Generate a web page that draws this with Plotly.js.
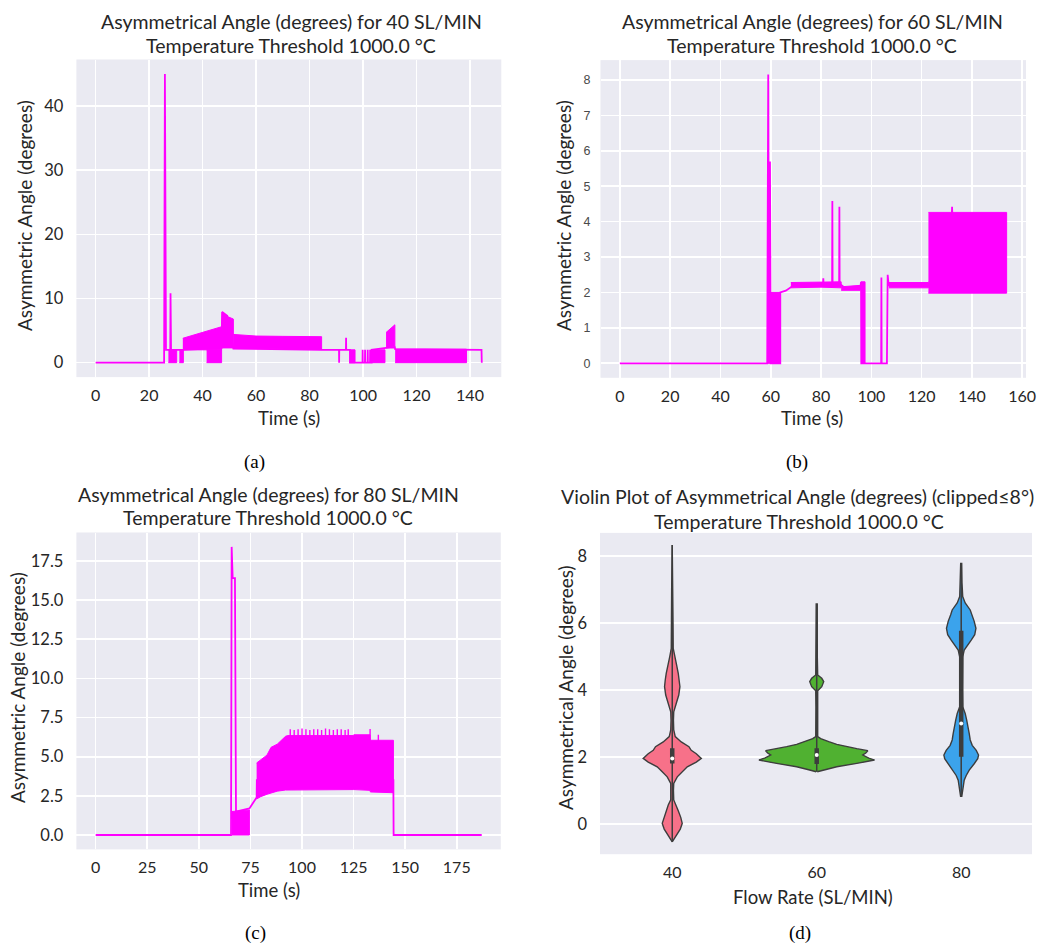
<!DOCTYPE html>
<html>
<head>
<meta charset="utf-8">
<script src="https://cdn.plot.ly/plotly-3.0.1.min.js"></script>
<style>html,body{margin:0;padding:0;background:#fff;}#chart{width:1041px;height:947px;}</style>
</head>
<body>
<div id="chart"></div>
<script>
// ---------------- DATA ----------------
// (a) 40 SL/MIN : main line (time s, angle deg)
const A_lineT = [0,25.6,25.9,26.3,27.9,28.0,28.2,32.6,47.1,47.3,49.2,51.5,84.5,91.0,91.05,91.1,93.6,93.65,93.7,95.1,95.1,99.8,99.85,99.9,100.7,100.75,100.8,101.7,101.75,101.8,102.6,102.65,102.7,103.2,103.2,108.6,111.9,112.0,138.7,144.3,144.4];
const A_lineV = [0,0,45.0,2.0,2.0,10.8,2.0,2.0,2.3,7.9,7.3,2.2,2.0,2.0,0,2.0,2.0,3.9,2.0,2.0,0,0,2.0,0,0,2.0,0,0,2.0,0,0,2.0,0,0,2.0,2.3,2.4,2.1,2.0,2.0,0];
// (a) dense oscillation bands: segments separated by null
const A_bandT  = [27.2,30.3,null,31.3,32.8,null,32.6,40.0,47.1,null,41.5,47.1,null,47.1,47.4,49.2,51.5,null,51.5,60.0,70.0,80.0,84.5,null,95.1,97.0,null,103.2,108.2,null,108.6,111.9,null,112.0,138.7];
const A_bandLo = [0,0,null,0,0,null,2.0,2.0,2.0,null,0,0,null,2.3,2.3,2.3,2.3,null,2.2,2.2,2.2,2.1,2.1,null,0,0,null,0,0,null,2.3,2.5,null,0,0];
const A_bandHi = [2.0,2.0,null,2.0,2.0,null,3.8,4.7,5.6,null,2.0,2.0,null,5.6,7.9,7.2,6.8,null,4.4,4.15,4.1,4.0,4.05,null,2.0,2.0,null,2.0,2.0,null,4.7,5.9,null,2.1,2.1];
const A_xTicks = [0,20,40,60,80,100,120,140];
const A_yTicks = [0,10,20,30,40];

// (b) 60 SL/MIN
const B_lineT = [0,58.6,59.0,59.3,59.7,60.0,63.8,63.8,66.0,69.1,80.8,80.9,81.0,84.4,84.5,84.6,87.2,87.3,87.4,90.0,95.6,95.9,96.0,97.5,103.9,104.0,104.1,106.2,106.5,106.9,122.7,132.0,132.1,132.2,153.8];
const B_lineV = [0,0,8.15,0,5.7,0,0,2.0,2.05,2.2,2.25,2.4,2.25,2.25,4.58,2.25,2.25,4.42,2.25,2.1,2.1,2.3,0,0,0,2.42,0,0,2.5,2.2,2.2,4.2,4.42,4.2,4.2];
const B_bandT  = [58.6,63.8,null,68.0,80.0,88.0,null,88.0,95.6,null,95.9,97.5,null,107.0,122.7,null,122.7,153.8];
const B_bandLo = [0,0,null,2.13,2.15,2.13,null,2.06,2.06,null,0,0,null,2.13,2.13,null,1.98,1.98];
const B_bandHi = [2.0,2.0,null,2.28,2.3,2.3,null,2.16,2.2,null,2.3,2.3,null,2.28,2.28,null,4.26,4.26];
const B_xTicks = [0,20,40,60,80,100,120,140,160];
const B_yTicks = [0,1,2,3,4,5,6,7,8];

// (c) 80 SL/MIN
const C_lineT = [0,65.6,65.9,66.4,67.5,67.6,68.0,74.5,78.0,78.1,144.3,144.3,144.4,187.1];
const C_lineV = [0,0,18.4,16.4,16.4,7.3,1.5,1.7,2.4,3.5,3.5,2.7,0,0];
const C_bandT  = [66.0,74.5,null,78.0,80.0,83.0,85.0,88.0,92.0,93.0,125.0,125.1,133.0,133.1,144.3];
const C_bandLo = [0,0,null,2.3,2.45,2.6,2.7,2.8,2.87,2.9,2.9,2.9,2.85,2.75,2.7];
const C_bandHi = [1.5,1.6,null,4.6,4.8,5.1,5.6,5.8,6.3,6.35,6.35,6.4,6.4,6.05,6.05];
const C_spikeT = [94.3,96.2,98.1,100.0,101.9,103.8,105.7,107.6,109.5,111.4,113.3,115.2,117.1,119.0,120.9,122.4,133.0,137.0];
const C_spikeV = [6.75,6.7,6.75,6.8,6.75,6.7,6.75,6.75,6.7,6.8,6.75,6.7,6.75,6.75,6.7,6.75,6.77,6.4];
const C_xTicks = [0,25,50,75,100,125,150,175];
const C_yTicks = [0,2.5,5,7.5,10,12.5,15,17.5];
const C_yText  = ['0.0','2.5','5.0','7.5','10.0','12.5','15.0','17.5'];

// (d) violin profiles: angle level and relative density (1 = widest)
const flowRates = ['40','60','80'];
const V40_y = [-0.53,-0.33,-0.15,0.02,0.2,0.4,0.57,0.72,1.0,1.21,1.41,1.56,1.71,1.85,1.96,2.1,2.2,2.31,2.45,2.61,2.81,3.1,3.35,3.6,3.85,4.1,4.3,4.5,4.8,5.0,5.24,6.0,7.0,8.33];
const V40_d = [0,0.069,0.139,0.173,0.147,0.104,0.069,0.026,0.021,0.026,0.087,0.173,0.26,0.416,0.503,0.416,0.329,0.289,0.156,0.052,0.026,0.021,0.026,0.069,0.113,0.133,0.121,0.104,0.069,0.043,0.017,0.014,0.01,0];
const V60_y = [1.56,1.62,1.71,1.81,1.91,1.97,2.06,2.12,2.19,2.25,2.31,2.38,2.46,2.55,2.61,3.0,3.5,3.98,4.1,4.25,4.35,4.45,5.0,6.57];
const V60_d = [0.009,0.139,0.347,0.693,1.0,0.901,0.797,0.849,0.884,0.693,0.52,0.347,0.208,0.069,0.017,0.014,0.014,0.017,0.087,0.121,0.087,0.017,0.01,0.009];
const V80_y = [0.81,1.05,1.31,1.45,1.61,1.8,1.95,2.06,2.2,2.35,2.51,2.7,2.9,3.1,3.3,3.5,4.0,4.5,4.99,5.19,5.35,5.49,5.65,5.84,6.05,6.25,6.39,6.6,6.79,7.2,7.78];
const V80_d = [0.009,0.026,0.052,0.087,0.139,0.225,0.286,0.3,0.26,0.191,0.156,0.139,0.121,0.095,0.069,0.026,0.021,0.021,0.026,0.052,0.121,0.173,0.234,0.255,0.225,0.182,0.156,0.069,0.026,0.014,0.009];
const boxQ1  = [1.81,1.79,2.01];
const boxQ3  = [2.26,2.26,5.77];
const boxMed = [1.96,2.06,3.0];
const whiskLo = [-0.53,1.56,0.81];
const whiskHi = [8.33,6.57,7.78];
const D_yTicks = [0,2,4,6,8];

// ---------------- STYLE / BUILD ----------------
const W = 1041, H = 947;
const fx = p => p / W, fy = p => 1 - p / H;
const MAG = '#ff00ff';
const FONT = 'Lato, "Open Sans", sans-serif';
const TXT = '#262626';
const palette = ['#f77189', '#50b131', '#3ba3ec'];
const EDGE = '#3d3d3d';

const traces = [];
function addSeries(xa, ya, lt, lv, bt, blo, bhi) {
  let segT = [], segLo = [], segHi = [];
  const flush = () => {
    if (segT.length) {
      traces.push({type:'scatter', mode:'lines', xaxis:xa, yaxis:ya,
        x: segT.concat(segT.slice().reverse()),
        y: segHi.concat(segLo.slice().reverse()),
        fill:'toself', fillcolor:MAG, line:{color:MAG, width:1}, hoverinfo:'skip', showlegend:false});
    }
    segT = []; segLo = []; segHi = [];
  };
  for (let i = 0; i < bt.length; i++) {
    if (bt[i] === null) { flush(); continue; }
    segT.push(bt[i]); segLo.push(blo[i]); segHi.push(bhi[i]);
  }
  flush();
  traces.push({type:'scatter', mode:'lines', xaxis:xa, yaxis:ya, x:lt, y:lv,
    line:{color:MAG, width:1.8}, showlegend:false});
}
addSeries('x','y',A_lineT,A_lineV,A_bandT,A_bandLo,A_bandHi);
addSeries('x2','y2',B_lineT,B_lineV,B_bandT,B_bandLo,B_bandHi);
addSeries('x3','y3',C_lineT,C_lineV,C_bandT,C_bandLo,C_bandHi);
(function(){
  const sx = [], sy = [];
  C_spikeT.forEach((t,i) => { sx.push(t,t,null); sy.push(5.5, C_spikeV[i], null); });
  traces.push({type:'scatter', mode:'lines', xaxis:'x3', yaxis:'y3', x:sx, y:sy,
    line:{color:MAG, width:1.4}, showlegend:false});
})();

const HALF = 0.4;
[[V40_y,V40_d],[V60_y,V60_d],[V80_y,V80_d]].forEach((v, k) => {
  const ys = v[0], ds = v[1];
  const xr = ys.map((_, i) => k + ds[i] * HALF);
  const xl = ys.map((_, i) => k - ds[i] * HALF).reverse();
  traces.push({type:'scatter', mode:'lines', xaxis:'x4', yaxis:'y4',
    x: xr.concat(xl), y: ys.concat(ys.slice().reverse()),
    fill:'toself', fillcolor:palette[k], line:{color:EDGE, width:1.4}, showlegend:false});
  traces.push({type:'scatter', mode:'lines', xaxis:'x4', yaxis:'y4',
    x:[k,k], y:[whiskLo[k], whiskHi[k]], line:{color:EDGE, width:1.5}, showlegend:false});
  traces.push({type:'scatter', mode:'lines', xaxis:'x4', yaxis:'y4',
    x:[k,k], y:[boxQ1[k], boxQ3[k]], line:{color:EDGE, width:4.5}, showlegend:false});
  traces.push({type:'scatter', mode:'markers', xaxis:'x4', yaxis:'y4',
    x:[k], y:[boxMed[k]], marker:{color:'#ffffff', size:4}, showlegend:false});
});

const axBase = {showgrid:true, gridcolor:'#ffffff', gridwidth:1.6, zeroline:false, showline:false,
  ticks:'', tickfont:{family:FONT, size:16.5, color:TXT}, fixedrange:true};
const xB = Object.assign({}, axBase, {ticklabelstandoff:7, tickfont:{family:FONT, size:16, color:TXT}});
const yB = Object.assign({}, axBase, {ticklabelstandoff:12});

const layout = {
  width:W, height:H, margin:{l:0,r:0,t:0,b:0,pad:0},
  paper_bgcolor:'#ffffff', plot_bgcolor:'#eaeaf2', showlegend:false,
  xaxis: Object.assign({}, xB, {domain:[fx(76.4), fx(501.3)], range:[-7.2,151.7], tickvals:A_xTicks, anchor:'y'}),
  yaxis: Object.assign({}, yB, {domain:[fy(377.1), fy(59.5)], range:[-2.25,47.25], tickvals:A_yTicks, anchor:'x'}),
  xaxis2: Object.assign({}, xB, {domain:[fx(600.5), fx(1026)], range:[-7.69,161.5], tickvals:B_xTicks, anchor:'y2'}),
  yaxis2: Object.assign({}, yB, {domain:[fy(377.8), fy(60.1)], range:[-0.41,8.56], tickvals:B_yTicks, anchor:'x2',
    ticklabelstandoff:9, tickfont:{family:'"Liberation Sans", Arial, sans-serif', size:12.5, color:'#4a4a4a'}}),
  xaxis3: Object.assign({}, xB, {domain:[fx(76.4), fx(500.8)], range:[-9.35,196.35], tickvals:C_xTicks, anchor:'y3'}),
  yaxis3: Object.assign({}, yB, {domain:[fy(849.4), fy(532.5)], range:[-0.92,19.32], tickvals:C_yTicks, ticktext:C_yText, anchor:'x3'}),
  xaxis4: Object.assign({}, xB, {domain:[fx(600), fx(1032)], range:[-0.5,2.49], tickvals:[0,1,2], ticktext:flowRates, showgrid:false, anchor:'y4'}),
  yaxis4: Object.assign({}, yB, {domain:[fy(854.2), fy(532.9)], range:[-0.9,8.69], tickvals:D_yTicks, anchor:'x4'}),
  annotations: []
};

function txt(text, x, y, size, opts) {
  layout.annotations.push(Object.assign({text:text, xref:'paper', yref:'paper', x:fx(x), y:fy(y),
    xanchor:'center', yanchor:'middle', showarrow:false,
    font:{family:FONT, size:size, color:TXT}}, opts || {}));
}
const TS = 19.5, AS = 18.5;
txt('Asymmetrical Angle (degrees) for 40 SL/MIN', 291, 21, TS);
txt('Temperature Threshold 1000.0 °C', 291, 45, TS);
txt('Asymmetrical Angle (degrees) for 60 SL/MIN', 812, 21, TS);
txt('Temperature Threshold 1000.0 °C', 812, 45, TS);
txt('Asymmetrical Angle (degrees) for 80 SL/MIN', 268, 494, TS);
txt('Temperature Threshold 1000.0 °C', 268, 517, TS);
txt('Violin Plot of Asymmetrical Angle (degrees) (clipped≤8°)', 797, 496, TS);
txt('Temperature Threshold 1000.0 °C', 799, 521, TS);
txt('Time (s)', 289, 418, AS);
txt('Time (s)', 812, 418, AS);
txt('Time (s)', 269, 890, AS);
txt('Flow Rate (SL/MIN)', 813, 897, AS);
txt('Asymmetric Angle (degrees)', 24, 216, 19, {textangle:-90});
txt('Asymmetric Angle (degrees)', 563, 216, 19, {textangle:-90});
txt('Asymmetric Angle (degrees)', 17, 688, 19, {textangle:-90});
txt('Asymmetrical Angle (degrees)', 565, 688, 19, {textangle:-90});
const SERIF = {font:{family:'"Liberation Serif", "DejaVu Serif", serif', size:19, color:'#000000'}};
txt('(a)', 254, 462, 19, SERIF);
txt('(b)', 797, 462, 19, SERIF);
txt('(c)', 255, 933, 19, SERIF);
txt('(d)', 800, 933, 19, SERIF);

Plotly.newPlot('chart', traces, layout, {displayModeBar:false, staticPlot:true});
</script>
</body>
</html>
